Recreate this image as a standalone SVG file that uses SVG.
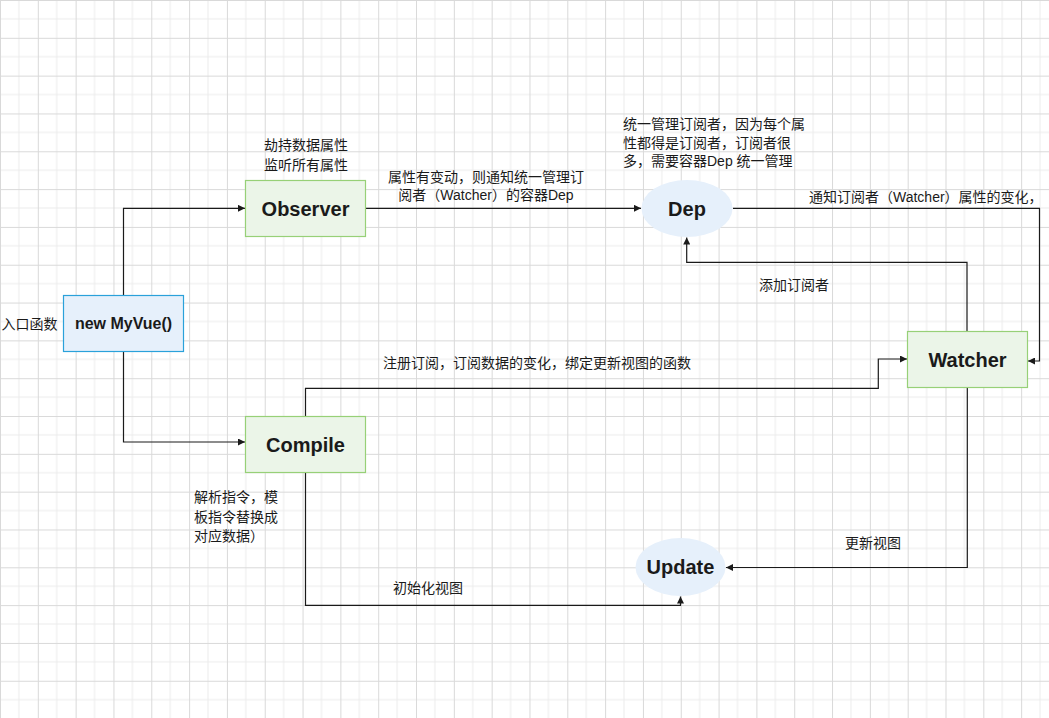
<svg xmlns="http://www.w3.org/2000/svg" width="1049" height="718" viewBox="0 0 1049 718">
  <style>
    .lbl { font-family: "Liberation Sans", "Noto Sans CJK SC", sans-serif; font-size: 14px; fill: #1a1a1a; }
    .node-text { font-family: "Liberation Sans", "Noto Sans CJK SC", sans-serif; font-weight: bold; fill: #1a1a1a; text-anchor: middle; }
    .box-blue { fill: #e6f0fb; stroke: #2aa1da; stroke-width: 1.2; }
    .box-green { fill: #ebf5e8; stroke: #97d077; stroke-width: 1.2; }
    .oval { fill: #e6f0fb; stroke: none; }
    .edge { fill: none; stroke: #1a1a1a; stroke-width: 1.2; marker-end: url(#arrow); }
  </style>
  <defs>
    <pattern id="grid" width="37.82" height="37.82" patternUnits="userSpaceOnUse">
      <path d="M18.91 0V37.82M0 18.91H37.82" stroke="#ececec" stroke-width="1" fill="none"/>
      <path d="M0.5 0V37.82M0 0.5H37.82" stroke="#d9d9d9" stroke-width="1" fill="none"/>
    </pattern>
    <marker id="arrow" viewBox="0 0 10 10" refX="10" refY="5" markerWidth="7" markerHeight="7" markerUnits="userSpaceOnUse" orient="auto">
      <path d="M0 0L10 5L0 10Z" fill="#1a1a1a"/>
    </marker>
  </defs>

  <!-- background grid -->
  <rect width="1049" height="718" fill="#ffffff"/>
  <rect width="1049" height="718" fill="url(#grid)"/>

  <!-- connectors -->
  <g id="connectors">
    <path class="edge" d="M123.5 295.5V208.3H245"/>
    <path class="edge" d="M123.5 351.5V442H245"/>
    <path class="edge" d="M365.5 208.3H641"/>
    <path class="edge" d="M733 208.3H1039.5V361H1028"/>
    <path class="edge" d="M967 331.5V262.3H686.7V237.5"/>
    <path class="edge" d="M305.5 416.5V388.3H878.3V359H907"/>
    <path class="edge" d="M967.3 387.5V567.5H726"/>
    <path class="edge" d="M305.5 472.5V605.3H680.5V596.5"/>
  </g>

  <!-- edge labels -->
  <g id="edge-labels">
    <text class="lbl" x="486" y="181.5" text-anchor="middle">属性有变动，则通知统一管理订</text>
    <text class="lbl" x="486" y="200" text-anchor="middle">阅者（Watcher）的容器Dep</text>
    <text class="lbl" x="809" y="202">通知订阅者（Watcher）属性的变化，</text>
    <text class="lbl" x="759" y="290">添加订阅者</text>
    <text class="lbl" x="383" y="368">注册订阅，订阅数据的变化，绑定更新视图的函数</text>
    <text class="lbl" x="845" y="548">更新视图</text>
    <text class="lbl" x="393" y="593">初始化视图</text>
  </g>

  <!-- entry node -->
  <g id="node-myvue">
    <rect class="box-blue" x="63.5" y="295.5" width="120" height="56"/>
    <text class="node-text" x="123.5" y="329" font-size="16">new MyVue()</text>
    <text class="lbl" x="29.5" y="329" text-anchor="middle">入口函数</text>
  </g>

  <g id="node-observer">
    <rect class="box-green" x="245.5" y="180.5" width="120" height="56"/>
    <text class="node-text" x="305.5" y="215.5" font-size="20">Observer</text>
    <text class="lbl" x="306" y="150" text-anchor="middle">劫持数据属性</text>
    <text class="lbl" x="306" y="170" text-anchor="middle">监听所有属性</text>
  </g>

  <g id="node-dep">
    <ellipse class="oval" cx="687" cy="208.5" rx="45.5" ry="28.5"/>
    <text class="node-text" x="687" y="215.5" font-size="20">Dep</text>
    <text class="lbl" x="623" y="129">统一管理订阅者，因为每个属</text>
    <text class="lbl" x="623" y="147.5">性都得是订阅者，订阅者很</text>
    <text class="lbl" x="623" y="166">多，需要容器Dep 统一管理</text>
  </g>

  <g id="node-watcher">
    <rect class="box-green" x="907.5" y="331.5" width="120" height="56"/>
    <text class="node-text" x="967.5" y="366.5" font-size="20">Watcher</text>
  </g>

  <g id="node-compile">
    <rect class="box-green" x="245.5" y="416.5" width="120" height="56"/>
    <text class="node-text" x="305.5" y="451.5" font-size="20">Compile</text>
    <text class="lbl" x="194" y="501.5">解析指令，模</text>
    <text class="lbl" x="194" y="521.5">板指令替换成</text>
    <text class="lbl" x="194" y="540.5">对应数据）</text>
  </g>

  <g id="node-update">
    <ellipse class="oval" cx="680.5" cy="567" rx="45" ry="29"/>
    <text class="node-text" x="680.5" y="574" font-size="20">Update</text>
  </g>
</svg>
